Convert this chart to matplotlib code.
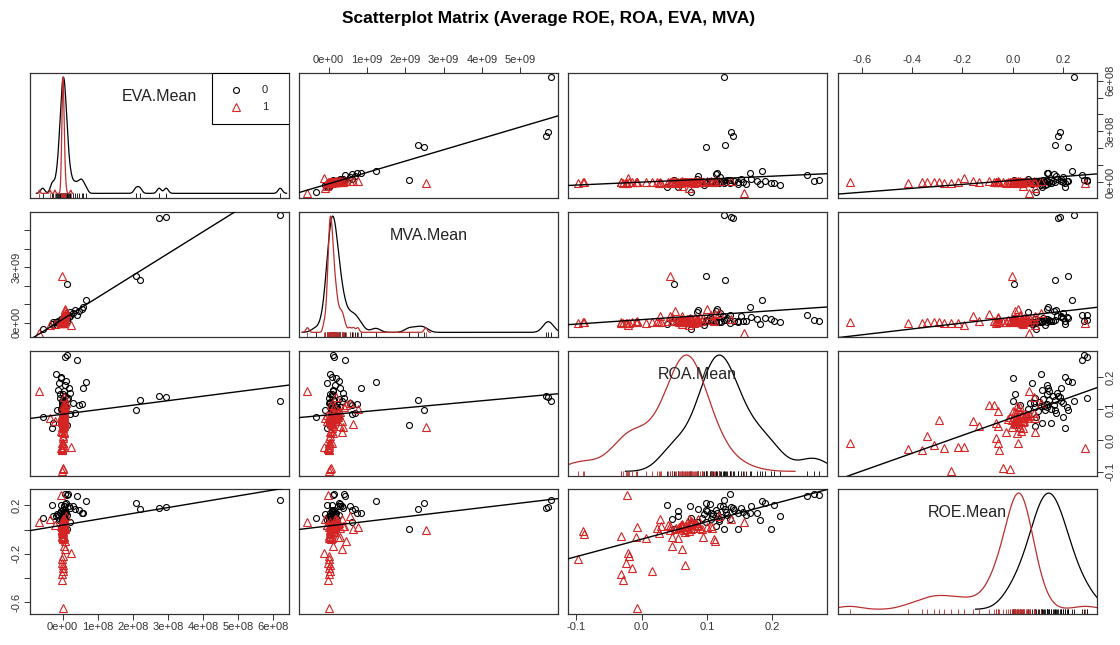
import numpy as np
import matplotlib
matplotlib.use('Agg')
import matplotlib.pyplot as plt
from matplotlib.patches import Rectangle

plt.rcParams['font.family'] = ['Liberation Sans', 'DejaVu Sans']

# ============================================================================
# Data: company averages, group 0 (circles) and group 1 (triangles)
# ============================================================================

VAR_NAMES = ['EVA.Mean', 'MVA.Mean', 'ROA.Mean', 'ROE.Mean']
GROUP_LABELS = ['0', '1']

eva_0 = [6.20e8, 2.95e8, 2.75e8, 2.09e8, 2.20e8, 0.12e8, 0.66e8, 0.54e8, 0.48e8, 0.42e8,
         0.08e8, 0.12e8, -0.57e8, -0.30e8, -0.28e8, 0.29e8, 0.57e8, 0.35e8, 0.20e8, -0.05e8,
         0.03e8, -0.02e8, 0.06e8, 0.02e8, -0.04e8, 0.10e8, 0.05e8, 0.15e8, -0.08e8, 0.04e8,
         0.18e8, 0.06e8, -0.10e8, -0.04e8, -0.18e8, -0.06e8, 0.02e8, -0.03e8, 0.08e8, 0.01e8,
         -0.01e8, 0.05e8, -0.02e8, 0.12e8, 0.00e8, 0.03e8, -0.07e8, 0.07e8, -0.12e8, 0.09e8,
         0.01e8, -0.03e8, 0.04e8, 0.22e8, -0.15e8]
mva_0 = [5.80e9, 5.72e9, 5.66e9, 2.50e9, 2.32e9, 2.10e9, 1.23e9, 0.75e9, 0.62e9, 0.42e9,
         0.13e9, 0.12e9, -0.33e9, -0.05e9, 0.02e9, 0.55e9, 0.85e9, 0.70e9, 0.60e9, 0.10e9,
         0.25e9, 0.05e9, 0.30e9, 0.15e9, 0.08e9, 0.20e9, 0.35e9, 0.40e9, 0.05e9, 0.12e9,
         0.30e9, 0.18e9, -0.05e9, 0.10e9, 0.05e9, 0.20e9, 0.08e9, 0.15e9, 0.22e9, 0.02e9,
         0.06e9, 0.10e9, 0.12e9, 0.28e9, 0.04e9, 0.16e9, 0.00e9, 0.09e9, 0.11e9, 0.26e9,
         0.07e9, 0.03e9, 0.14e9, 0.38e9, -0.10e9]
roa_0 = [0.126, 0.137, 0.140, 0.098, 0.128, 0.049, 0.184, 0.116, 0.114, 0.254,
         0.264, 0.271, 0.075, 0.038, 0.055, 0.120, 0.166, 0.087, 0.084, 0.055,
         0.074, 0.046, 0.105, 0.098, 0.100, 0.106, 0.125, 0.136, 0.147, 0.156,
         0.167, 0.177, 0.182, 0.203, 0.212, 0.198, 0.148, 0.126, 0.106, 0.119,
         0.114, 0.093, 0.099, 0.131, 0.122, 0.110, 0.135, 0.142, 0.160, 0.189,
         0.108, 0.118, 0.129, 0.152, 0.096]
roe_0 = [0.245, 0.186, 0.180, 0.218, 0.168, 0.005, 0.236, 0.135, 0.165, 0.275,
         0.295, 0.282, 0.092, 0.207, 0.116, 0.198, 0.140, 0.171, 0.060, 0.152,
         0.198, 0.089, 0.215, 0.166, 0.152, 0.138, 0.193, 0.297, 0.138, 0.144,
         0.193, 0.138, 0.078, 0.207, 0.111, 0.002, 0.007, 0.002, 0.089, 0.070,
         0.029, 0.100, 0.062, 0.120, 0.105, 0.125, 0.090, 0.160, 0.118, 0.221,
         0.112, 0.085, 0.146, 0.175, 0.128]

eva_1 = [-0.05e8, 0.00e8, 0.01e8, -0.02e8, -0.01e8, 0.02e8, -0.01e8, 0.23e8, 0.00e8, -0.02e8,
         0.01e8, -0.01e8, -0.03e8, 0.00e8, 0.01e8, 0.02e8, 0.06e8, 0.03e8, 0.05e8, 0.00e8,
         -0.02e8, 0.03e8, 0.04e8, -0.04e8, 0.02e8, 0.07e8, 0.01e8, -0.01e8, 0.03e8, 0.05e8,
         0.02e8, 0.00e8, 0.04e8, 0.06e8, 0.03e8, 0.01e8, 0.08e8, 0.10e8, 0.05e8, -0.66e8,
         -0.03e8, -0.36e8, -0.22e8, 0.00e8, 0.02e8, -0.01e8, 0.03e8, 0.01e8, 0.00e8, 0.07e8,
         0.02e8, 0.01e8, -0.02e8, 0.03e8, 0.00e8, 0.02e8, -0.01e8, 0.04e8, 0.01e8, -0.03e8,
         0.02e8, 0.00e8, 0.05e8, -0.01e8, 0.03e8, 0.02e8, 0.00e8]
mva_1 = [-0.02e9, 0.05e9, 0.06e9, 0.00e9, 0.02e9, 0.10e9, 0.03e9, -0.11e9, 0.00e9, -0.01e9,
         0.02e9, 0.00e9, -0.02e9, 0.02e9, 0.03e9, 0.05e9, 0.35e9, 0.11e9, 0.30e9, 0.08e9,
         0.04e9, 0.12e9, 0.35e9, 0.06e9, 0.37e9, 0.65e9, 0.15e9, 0.10e9, 0.22e9, 0.28e9,
         0.18e9, 0.09e9, 0.25e9, 0.40e9, 0.14e9, 0.07e9, 0.45e9, 0.55e9, 0.20e9, -0.55e9,
         2.53e9, -0.10e9, -0.05e9, 0.12e9, 0.16e9, 0.05e9, 0.20e9, 0.10e9, 0.01e9, 0.76e9,
         0.08e9, 0.09e9, 0.04e9, 0.18e9, 0.07e9, 0.13e9, 0.02e9, 0.24e9, 0.11e9, -0.03e9,
         0.16e9, 0.06e9, 0.30e9, 0.03e9, 0.20e9, 0.12e9, 0.05e9]
roa_1 = [-0.023, -0.090, -0.088, -0.097, -0.031, -0.008, -0.009, -0.021, -0.020, -0.024,
         -0.015, -0.032, -0.028, -0.008, 0.015, 0.066, 0.062, 0.046, 0.047, 0.055,
         0.026, 0.023, 0.028, 0.029, 0.044, 0.051, 0.067, 0.073, 0.076, 0.081,
         0.087, 0.092, 0.094, 0.106, 0.108, 0.111, 0.112, 0.119, 0.137, 0.157,
         0.043, 0.072, 0.062, 0.062, 0.070, 0.077, 0.084, 0.040, 0.007, 0.100,
         0.058, 0.052, 0.057, 0.061, 0.064, 0.068, 0.071, 0.074, 0.078, 0.080,
         0.083, 0.086, 0.089, 0.065, 0.070, 0.075, 0.060]
roe_1 = [0.289, -0.012, -0.039, -0.244, -0.053, 0.021, -0.058, -0.195, -0.217, -0.272,
         -0.313, -0.362, -0.416, -0.649, -0.340, -0.293, -0.157, -0.135, -0.058, -0.067,
         -0.026, 0.015, 0.089, 0.034, 0.029, 0.007, -0.020, -0.012, 0.070, 0.056,
         0.084, 0.002, -0.058, 0.029, 0.015, -0.075, -0.094, 0.111, 0.084, 0.065,
         -0.005, 0.089, 0.040, 0.045, 0.034, 0.062, 0.038, 0.040, -0.067, 0.020,
         0.010, 0.012, 0.025, 0.018, 0.030, 0.008, 0.022, 0.045, 0.015, 0.035,
         0.052, 0.028, 0.010, -0.005, 0.058, 0.003, 0.042]

# axis ticks for each variable, and which of them carry a label on each side
TICKS = [
    [0, 1e8, 2e8, 3e8, 4e8, 5e8, 6e8],
    [0, 1e9, 2e9, 3e9, 4e9, 5e9],
    [-0.1, 0.0, 0.1, 0.2],
    [-0.6, -0.4, -0.2, 0.0, 0.2],
]
EVA_RIGHT_LABELED = [0, 3e8, 6e8]
MVA_LEFT_LABELED = [0, 3e9]
ROE_LEFT_LABELED = [-0.6, -0.2, 0.2]

# ============================================================================
# Styling
# ============================================================================

LIMS = [(-0.93e8, 6.45e8), (-0.77e9, 5.98e9), (-0.113, 0.284), (-0.695, 0.335)]
RED = '#D42424'
DENS_RED = '#B92E2E'
MARKERS = [
    dict(marker='o', mfc='none', mec='black', ms=4.3, mew=0.8),
    dict(marker='^', mfc='none', mec=RED, ms=5.3, mew=0.8),
]
DENS_COLORS = ['black', DENS_RED]
# kernel bandwidth per variable, per group
BANDWIDTH = [(0.06e8, 0.02e8), (0.12e9, 0.04e9), (0.021, 0.026), (0.05, 0.045)]

COL_LEFT = [30, 299, 568, 838]
ROW_TOP = [73, 212, 351, 489]
PANEL_W, PANEL_H = 259, 125
FIG_W, FIG_H = 1120, 645


def fmt_tick(var, v):
    if var < 2:
        return f'{v:.0e}'
    return f'{v:.1f}'.replace('-0.0', '0.0')


def setup_axis(ax, side, var, labeled=None):
    ticks = TICKS[var]
    if labeled is None:
        labeled = ticks
    labels = [fmt_tick(var, t) if any(np.isclose(t, l) for l in labeled) else '' for t in ticks]
    if side in ('top', 'bottom'):
        ax.set_xticks(ticks)
        ax.set_xticklabels(labels)
        ax.tick_params(axis='x', which='both', bottom=(side == 'bottom'), top=(side == 'top'),
                       labelbottom=(side == 'bottom'), labeltop=(side == 'top'))
    else:
        ax.set_yticks(ticks)
        ax.set_yticklabels(labels, rotation=90, va='center')
        ax.tick_params(axis='y', which='both', left=(side == 'left'), right=(side == 'right'),
                       labelleft=(side == 'left'), labelright=(side == 'right'))


def kde(values, grid, bw):
    d = (grid[:, None] - values[None, :]) / bw
    return np.exp(-0.5 * d ** 2).sum(axis=1)


def draw_legend(ax):
    """Boxed group key in the upper right corner of the first panel."""
    ax.add_patch(Rectangle((0.703, 0.592), 0.297, 0.408, transform=ax.transAxes,
                           facecolor='white', edgecolor='black', lw=0.8, zorder=5))
    for k, y in enumerate((0.864, 0.728)):
        ax.plot([0.795], [y], transform=ax.transAxes, ls='none', zorder=6, **MARKERS[k])
        ax.text(0.896, y, GROUP_LABELS[k], transform=ax.transAxes, ha='left', va='center',
                fontsize=8, color='#222222', zorder=6)


def main():
    groups = [
        [np.array(eva_0), np.array(mva_0), np.array(roa_0), np.array(roe_0)],
        [np.array(eva_1), np.array(mva_1), np.array(roa_1), np.array(roe_1)],
    ]

    fig = plt.figure(figsize=(FIG_W / 100, FIG_H / 100), dpi=100)
    fig.text(549 / FIG_W, 1 - 18 / FIG_H, 'Scatterplot Matrix (Average ROE, ROA, EVA, MVA)',
             ha='center', va='center', fontsize=12.5, fontweight='bold')

    for i in range(4):          # row -> variable on y
        for j in range(4):      # column -> variable on x
            rect = [COL_LEFT[j] / FIG_W, 1 - (ROW_TOP[i] + PANEL_H) / FIG_H,
                    PANEL_W / FIG_W, PANEL_H / FIG_H]
            ax = fig.add_axes(rect)
            for sp in ax.spines.values():
                sp.set_color('#333333')
                sp.set_linewidth(0.9)
            ax.tick_params(left=False, bottom=False, labelleft=False, labelbottom=False,
                           direction='out', length=4, width=0.7, colors='#333333',
                           labelsize=8, pad=2)
            ax.set_xlim(LIMS[j])

            if i == j:
                # per-group densities scaled to a common peak, with rugs
                for g in (0, 1):
                    vals = groups[g][i]
                    bw = BANDWIDTH[i][g]
                    grid = np.linspace(vals.min() - 3 * bw, vals.max() + 3 * bw, 600)
                    dens = kde(vals, grid, bw)
                    ax.plot(grid, dens / dens.max(), color=DENS_COLORS[g], lw=0.9)
                    ax.vlines(vals, 0, 0.04, transform=ax.get_xaxis_transform(),
                              color=DENS_COLORS[g], lw=0.6)
                ax.set_ylim(-0.04, 1.035)
                ax.text(0.5, 0.81, VAR_NAMES[i], transform=ax.transAxes,
                        ha='center', va='center', fontsize=11.5, color='#222222')
            else:
                for g in (0, 1):
                    ax.plot(groups[g][j], groups[g][i], ls='none', **MARKERS[g])
                x_all = np.concatenate([groups[0][j], groups[1][j]])
                y_all = np.concatenate([groups[0][i], groups[1][i]])
                slope, icpt = np.polyfit(x_all, y_all, 1)
                xx = np.array(LIMS[j])
                ax.plot(xx, slope * xx + icpt, color='black', lw=1, zorder=3)
                ax.set_ylim(LIMS[i])

            # outer axes alternate sides, as in pairs()
            if i == 0 and j in (1, 3):
                setup_axis(ax, 'top', j)
            if i == 3 and j in (0, 2):
                setup_axis(ax, 'bottom', j)
            if j == 0 and i == 1:
                setup_axis(ax, 'left', i, MVA_LEFT_LABELED)
            if j == 0 and i == 3:
                setup_axis(ax, 'left', i, ROE_LEFT_LABELED)
            if j == 3 and i == 0:
                setup_axis(ax, 'right', i, EVA_RIGHT_LABELED)
            if j == 3 and i == 2:
                setup_axis(ax, 'right', i)

            if i == 0 and j == 0:
                draw_legend(ax)

    plt.savefig('out.png', dpi=100)
    plt.close()


if __name__ == '__main__':
    main()
